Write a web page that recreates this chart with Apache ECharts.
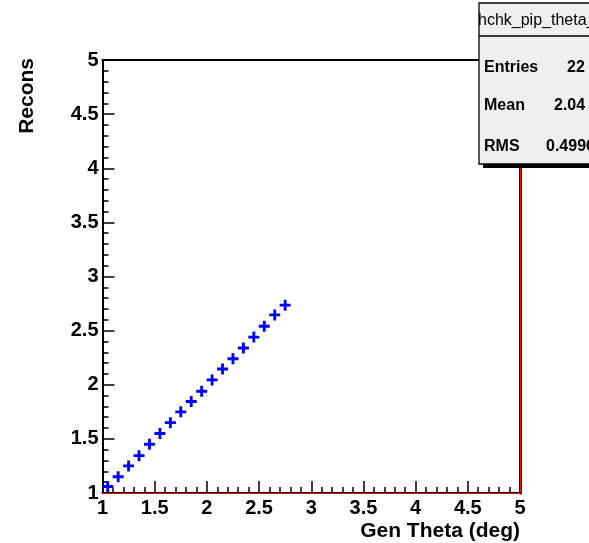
<!DOCTYPE html>
<html>
<head>
<meta charset="utf-8">
<script src="https://cdn.jsdelivr.net/npm/echarts@6/dist/echarts.min.js"></script>
<style>
html,body{margin:0;padding:0;background:#fff;}
#chart{width:589px;height:543px;}
</style>
</head>
<body>
<div id="chart"></div>
<script>
// Data
var genTheta = [1.05, 1.15, 1.25, 1.35, 1.45, 1.55, 1.65, 1.75, 1.85, 1.95, 2.05, 2.15, 2.25, 2.35, 2.45, 2.55, 2.65, 2.75];
var recons   = [1.06, 1.15, 1.25, 1.345, 1.45, 1.55, 1.65, 1.75, 1.845, 1.94, 2.045, 2.145, 2.24, 2.34, 2.44, 2.54, 2.645, 2.735];
var xTitle = 'Gen Theta (deg)';
var yTitle = 'Recons';
var statsTitle = 'hchk_pip_theta_';
var statsNames = ['Entries', 'Mean', 'RMS'];
var statsValues = ['22', '2.04', '0.4996'];

var points = genTheta.map(function (x, i) { return [x, recons[i]]; });
var FONT = '"Liberation Sans", Arial, Helvetica, sans-serif';
var plusPath = 'path://M3.7,0 L6.3,0 L6.3,3.7 L10,3.7 L10,6.3 L6.3,6.3 L6.3,10 L3.7,10 L3.7,6.3 L0,6.3 L0,3.7 L3.7,3.7 Z';

var chart = echarts.init(document.getElementById('chart'), null, {renderer: 'canvas'});

var axisLabelStyle = {color: '#000', fontFamily: FONT, fontWeight: 'bold', fontSize: 20};

var Z = 100;
var statsChildren = [
  {type: 'rect', z: Z, shape: {x: 483, y: 7, width: 130, height: 161}, style: {fill: '#000'}},
  {type: 'rect', z: Z + 1, shape: {x: 479, y: 3, width: 130, height: 161}, style: {fill: '#efefef', stroke: '#000', lineWidth: 1.3}},
  {type: 'line', z: Z + 2, shape: {x1: 479, y1: 36, x2: 600, y2: 36}, style: {stroke: '#000', lineWidth: 1.3}},
  {type: 'text', z: Z + 2, x: 478, y: 21, style: {text: statsTitle, fill: '#000', font: '16px ' + FONT, textAlign: 'left', textVerticalAlign: 'middle'}}
];
var rowY = [68, 106, 147];
var valueX = [567, 554, 546];
statsNames.forEach(function (n, i) {
  statsChildren.push({type: 'text', z: Z + 2, x: 484, y: rowY[i], style: {text: n, fill: '#000', font: 'bold 16px ' + FONT, textAlign: 'left', textVerticalAlign: 'middle'}});
  statsChildren.push({type: 'text', z: Z + 2, x: valueX[i], y: rowY[i], style: {text: statsValues[i], fill: '#000', font: 'bold 16px ' + FONT, textAlign: 'left', textVerticalAlign: 'middle'}});
});

var option = {
  animation: false,
  backgroundColor: '#fff',
  grid: {left: 102.5, right: 69, top: 60, bottom: 50, containLabel: false},
  xAxis: [{
    type: 'value', min: 1, max: 5, interval: 0.5,
    axisLine: {show: true, onZero: false, lineStyle: {color: '#000', width: 2}},
    axisTick: {show: true, inside: true, length: 12, lineStyle: {color: '#000', width: 1.5}},
    minorTick: {show: true, splitNumber: 5, length: 6, lineStyle: {color: '#000', width: 1.5}},
    axisLabel: Object.assign({margin: 5, formatter: function (v) { return String(v); }}, axisLabelStyle),
    splitLine: {show: false}
  }, {
    type: 'value', min: 1, max: 5, position: 'top',
    axisLine: {show: true, onZero: false, lineStyle: {color: '#000', width: 2}},
    axisTick: {show: false}, axisLabel: {show: false}, splitLine: {show: false}
  }],
  yAxis: [{
    type: 'value', min: 1, max: 5, interval: 0.5,
    axisLine: {show: true, onZero: false, lineStyle: {color: '#000', width: 2}},
    axisTick: {show: true, inside: true, length: 12, lineStyle: {color: '#000', width: 1.5}},
    minorTick: {show: true, splitNumber: 5, length: 6, lineStyle: {color: '#000', width: 1.5}},
    axisLabel: Object.assign({margin: 4, formatter: function (v) { return String(v); }}, axisLabelStyle),
    splitLine: {show: false}
  }, {
    type: 'value', min: 1, max: 5, position: 'right',
    axisLine: {show: true, onZero: false, lineStyle: {color: '#000', width: 3}},
    axisTick: {show: false}, axisLabel: {show: false}, splitLine: {show: false}
  }],
  series: [{
    type: 'scatter',
    data: points,
    symbol: plusPath,
    symbolSize: 11,
    itemStyle: {color: '#0000ff', opacity: 1},
    z: 5,
    markLine: {
      silent: true, symbol: 'none', label: {show: false},
      lineStyle: {color: '#ff0000', width: 1.2, type: 'solid', opacity: 1},
      data: [{yAxis: 1}, {xAxis: 5}],
      z: 6
    }
  }],
  graphic: [
    {type: 'text', x: 27, y: 58, rotation: Math.PI / 2, style: {text: yTitle, fill: '#000', font: 'bold 21px ' + FONT, textAlign: 'right', textVerticalAlign: 'middle'}},
    {type: 'text', x: 520, y: 531, style: {text: xTitle, fill: '#000', font: 'bold 21px ' + FONT, textAlign: 'right', textVerticalAlign: 'middle'}},
    {type: 'group', children: statsChildren}
  ]
};
chart.setOption(option);
</script>
</body>
</html>
